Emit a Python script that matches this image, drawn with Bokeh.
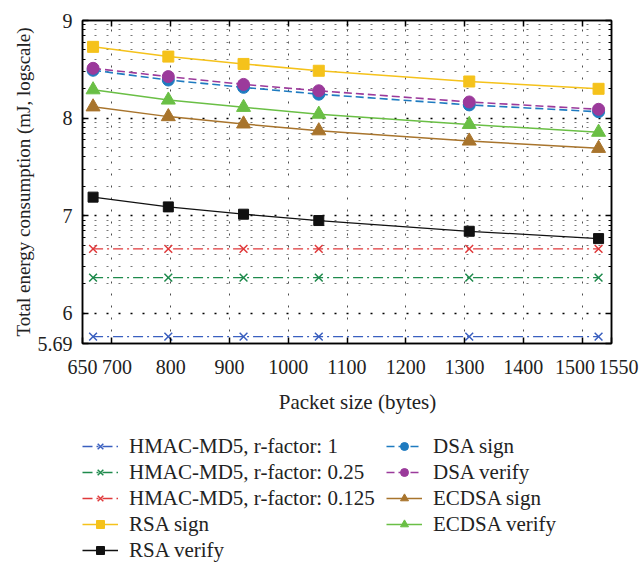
import math
from bokeh.plotting import figure
from bokeh.layouts import column
from bokeh.models import FixedTicker, LinearAxis, Legend, LegendItem, Range1d
from bokeh.embed import file_html
from bokeh.resources import INLINE

# ---------------- data ----------------
packet_size = [668, 796, 924, 1052, 1308, 1528]
hmac_r1 = [5.76, 5.76, 5.76, 5.76, 5.76, 5.76]
hmac_r025 = [6.365, 6.365, 6.365, 6.365, 6.365, 6.365]
hmac_r0125 = [6.66, 6.66, 6.66, 6.66, 6.66, 6.66]
rsa_sign = [8.73, 8.63, 8.555, 8.485, 8.375, 8.30]
rsa_verify = [7.19, 7.09, 7.015, 6.95, 6.84, 6.765]
dsa_sign = [8.49, 8.39, 8.315, 8.245, 8.135, 8.065]
dsa_verify = [8.51, 8.425, 8.345, 8.28, 8.165, 8.09]
ecdsa_sign = [8.115, 8.015, 7.94, 7.87, 7.765, 7.69]
ecdsa_verify = [8.29, 8.185, 8.11, 8.04, 7.935, 7.855]

x_ticks = [650, 700, 800, 900, 1000, 1100, 1200, 1300, 1400, 1500, 1550]
x_grid = [700, 800, 900, 1000, 1100, 1200, 1300, 1400, 1500]
y_ticks = [5.69, 6, 7, 8, 9]
y_decades = [6, 7, 8]
minor_steps = [2, 3, 4, 5, 6, 7, 8, 9]
y_minor = [d + math.log10(k) for d in y_decades for k in minor_steps]

FONT = "Liberation Serif"
TXT = "#222222"
FS = "21px"
TICK_FS = "20px"
FSP = "\u2007"   # figure space: nudges crowded edge labels apart
THIN = "\u2009"  # thin space

p = figure(width=640, height=420, output_backend="svg", toolbar_location=None,
           x_range=Range1d(650, 1550), y_range=Range1d(5.69, 9),
           min_border_left=82, min_border_right=29, min_border_top=20, min_border_bottom=77)
p.outline_line_color = "black"
p.outline_line_width = 1.5
p.background_fill_color = "white"


def style_axis(ax, show_labels=True):
    ax.axis_line_color = "black"
    ax.axis_line_width = 1.5
    ax.major_tick_in = 6
    ax.major_tick_out = 0
    ax.minor_tick_in = 3
    ax.minor_tick_out = 0
    ax.major_tick_line_color = "black"
    ax.minor_tick_line_color = "black"
    ax.major_tick_line_width = 1.5
    ax.minor_tick_line_width = 1
    ax.major_label_text_font = FONT
    ax.major_label_text_font_size = TICK_FS
    ax.major_label_text_color = TXT
    ax.axis_label_text_font = FONT
    ax.axis_label_text_font_size = FS
    ax.axis_label_text_font_style = "normal"
    ax.axis_label_text_color = TXT
    if not show_labels:
        ax.major_label_text_font_size = "1px"
        ax.major_label_text_color = None
        ax.major_label_standoff = 0


xa = p.xaxis[0]
xa.ticker = FixedTicker(ticks=x_ticks)
xa.axis_label = FSP + FSP + "Packet size (bytes)"
style_axis(xa)
xa.major_label_standoff = 12
xa.axis_label_standoff = 9
xa.major_label_overrides = {700: FSP + "700", 1500: "1500" + FSP + THIN,
                            1550: FSP + THIN + "1550"}

ya = p.yaxis[0]
ya.ticker = FixedTicker(ticks=y_ticks, minor_ticks=y_minor)
ya.axis_label = "Total energy consumption (mJ, logscale)"
style_axis(ya)
ya.axis_label_text_font_size = "19px"
ya.major_label_standoff = 10
ya.axis_label_standoff = 1

top = LinearAxis(ticker=FixedTicker(ticks=x_grid))
style_axis(top, show_labels=False)
p.add_layout(top, "above")
right = LinearAxis(ticker=FixedTicker(ticks=y_ticks, minor_ticks=y_minor))
style_axis(right, show_labels=False)
p.add_layout(right, "right")

# grids
p.xgrid.ticker = FixedTicker(ticks=x_grid)
p.xgrid.grid_line_color = "black"
p.xgrid.grid_line_alpha = 0.7
p.xgrid.grid_line_dash = "2 10"
p.xgrid.grid_line_width = 1

p.ygrid.ticker = FixedTicker(ticks=y_decades, minor_ticks=y_minor)
p.ygrid.grid_line_color = "black"
p.ygrid.grid_line_dash = "2 10"
p.ygrid.grid_line_width = 1.5
p.ygrid.minor_grid_line_color = "#777777"
p.ygrid.minor_grid_line_dash = "2 10"
p.ygrid.minor_grid_line_width = 1

# series: label, values, colour, dash, marker, size, line width
series = [
    ("HMAC-MD5, r-factor: 1", hmac_r1, "#3a5fbf", "10 4 2 4", "x", 11, 1.3),
    ("HMAC-MD5, r-factor: 0.25", hmac_r025, "#1e8a4c", "10 4 2 4", "x", 11, 1.3),
    ("HMAC-MD5, r-factor: 0.125", hmac_r0125, "#e0393b", "10 4 2 4", "x", 11, 1.3),
    ("RSA sign", rsa_sign, "#f5c21b", "solid", "square", 11, 1.5),
    ("RSA verify", rsa_verify, "#111111", "solid", "square", 10, 1.3),
    ("DSA sign", dsa_sign, "#1f7bc0", "8 4", "circle", 12, 1.6),
    ("DSA verify", dsa_verify, "#9b3a9b", "8 4", "circle", 12, 1.6),
    ("ECDSA sign", ecdsa_sign, "#a8742c", "solid", "triangle", 14, 1.5),
    ("ECDSA verify", ecdsa_verify, "#6abf45", "solid", "triangle", 14, 1.5),
]

# legend panel below the plot: same series drawn again, but outside its view,
# so only the legend glyphs show
leg = figure(width=640, height=143, output_backend="svg", toolbar_location=None,
             x_range=Range1d(0, 1), y_range=Range1d(0, 1),
             min_border_left=0, min_border_right=0, min_border_top=0, min_border_bottom=0)
leg.axis.visible = False
leg.grid.visible = False
leg.outline_line_color = None


def draw(fig, xs, ys, color, dash, marker, size, lw):
    lr = fig.line(xs, ys, line_color=color, line_width=lw, line_dash=dash)
    if marker == "x":
        sr = fig.scatter(xs, ys, marker="x", size=size, line_color=color, line_width=1.5)
    else:
        sr = fig.scatter(xs, ys, marker=marker, size=size, fill_color=color,
                         line_color=color, line_width=1)
    return lr, sr


items = []
for label, ys, color, dash, marker, size, lw in series:
    draw(p, packet_size, ys, color, dash, marker, size, lw)
    lr, sr = draw(leg, packet_size, ys, color, dash, marker, size, lw)
    items.append(LegendItem(label=label, renderers=[lr, sr]))


def make_legend(its, loc):
    return Legend(items=its, location=loc, orientation="vertical",
                  glyph_width=36, glyph_height=20, label_height=20, label_standoff=11,
                  spacing=1, padding=0, margin=0, border_line_color=None,
                  background_fill_alpha=0,
                  label_text_font=FONT, label_text_font_size=FS, label_text_color=TXT)


leg.add_layout(make_legend(items[:5], (0, 0.5)))
leg.add_layout(make_legend(items[5:], (304, 26.5)))

layout = column(p, leg, spacing=0)
open("out.html", "w").write(file_html(layout, INLINE))
